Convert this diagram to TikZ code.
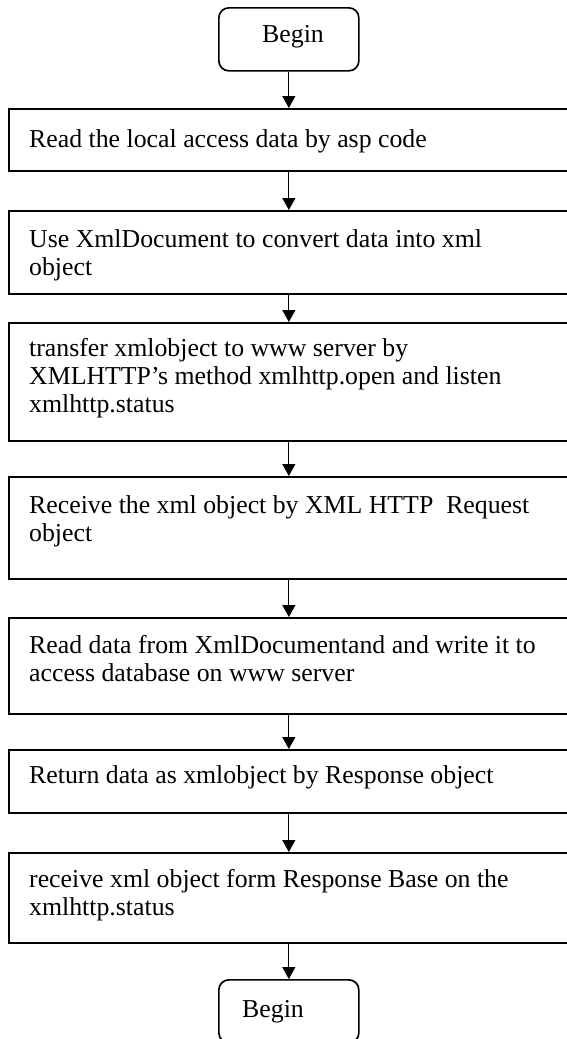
\documentclass[tikz,border=0pt]{standalone}
\usepackage{fontspec}
\setmainfont{Liberation Serif}
\usetikzlibrary{arrows.meta}
\begin{document}
\begin{tikzpicture}[x=1pt,y=-1pt,
  stepbox/.style={draw, line width=1.7pt, minimum width=580pt, anchor=north west, inner sep=0pt},
  termbox/.style={draw, line width=1.7pt, rounded corners=10pt, minimum width=140pt, minimum height=63pt, anchor=north west, inner sep=0pt},
  txt/.style={anchor=base west, inner sep=0pt, align=left, font=\fontsize{25.8}{28}\selectfont},
  arr/.style={line width=1.2pt, -{Triangle[length=12pt,width=13pt]}}]
\useasboundingbox (0,0) rectangle (566,1039);
% boxes
\node[termbox] (b0) at (218,7) {};
\node[stepbox, minimum height=62pt] (b1) at (8,108) {};
\node[stepbox, minimum height=83pt] (b2) at (8,210) {};
\node[stepbox, minimum height=118pt] (b3) at (8,322) {};
\node[stepbox, minimum height=102pt] (b4) at (8,476) {};
\node[stepbox, minimum height=96pt] (b5) at (8,617) {};
\node[stepbox, minimum height=63pt] (b6) at (8,749) {};
\node[stepbox, minimum height=90pt] (b7) at (8,852) {};
\node[termbox] (b8) at (218,979) {};
% texts (anchor = baseline of the last line)
\node[txt] (t0) at (262,42) {Begin};
\node[txt] (t1) at (29,147) {Read the local access data by asp code};
\node[txt] (t2) at (29,275) {Use XmlDocument to convert data into xml\\object};
\node[txt] (t3) at (29,412) {transfer xmlobject to www server by\\XMLHTTP’s method xmlhttp.open and listen\\xmlhttp.status};
\node[txt] (t4) at (29,541) {Receive the xml object by XML HTTP~ Request\\object};
\node[txt] (t5) at (29,681) {Read data from XmlDocumentand and write it to\\access database on www server};
\node[txt] (t6) at (29,783) {Return data as xmlobject by Response object};
\node[txt] (t7) at (29,915) {receive xml object form Response Base on the\\xmlhttp.status};
\node[txt] (t8) at (242,1017) {Begin};
% connectors
\draw[arr] (b0.south) -- (b1.north -| b0.south);
\draw[arr] (b1.south -| b0.south) -- (b2.north -| b0.south);
\draw[arr] (b2.south -| b0.south) -- (b3.north -| b0.south);
\draw[arr] (b3.south -| b0.south) -- (b4.north -| b0.south);
\draw[arr] (b4.south -| b0.south) -- (b5.north -| b0.south);
\draw[arr] (b5.south -| b0.south) -- (b6.north -| b0.south);
\draw[arr] (b6.south -| b0.south) -- (b7.north -| b0.south);
\draw[arr] (b7.south -| b0.south) -- (b8.north);
\end{tikzpicture}
\end{document}
